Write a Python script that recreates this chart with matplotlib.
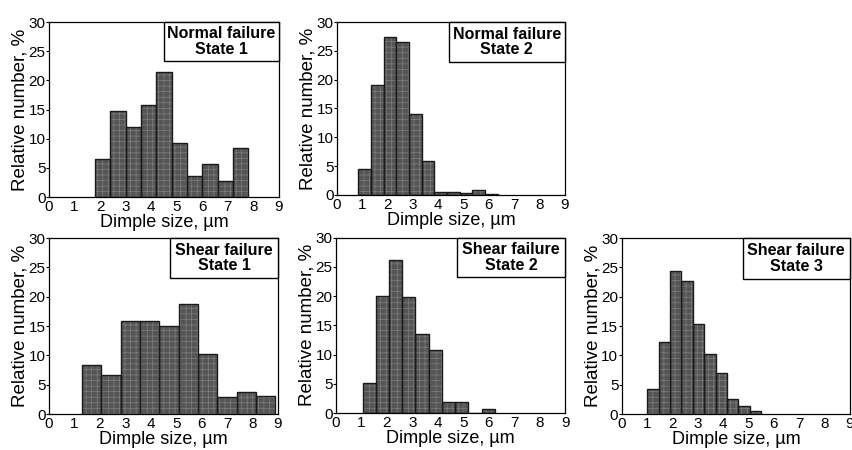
import matplotlib
matplotlib.use("Agg")
import matplotlib.pyplot as plt
from matplotlib.patches import Rectangle

plt.rcParams['font.family'] = ['Liberation Sans', 'DejaVu Sans']
plt.rcParams['hatch.linewidth'] = 0.5

# Panel titles
titles = ["Normal failure\nState 1", "Normal failure\nState 2",
          "Shear failure\nState 1", "Shear failure\nState 2", "Shear failure\nState 3"]

# Bin left edges and widths (µm) and relative numbers (%)
n1_edges = [1.8, 2.4, 3.0, 3.6, 4.2, 4.8, 5.4, 6.0, 6.6, 7.2]
n1_width = 0.6
n1_vals = [6.6, 14.7, 12.0, 15.8, 21.5, 9.2, 3.6, 5.7, 2.7, 8.4]

n2_edges = [0.85, 1.35, 1.85, 2.35, 2.85, 3.35, 3.85, 4.35, 4.85, 5.35, 5.85]
n2_width = 0.5
n2_vals = [4.45, 19.0, 27.4, 26.6, 14.0, 5.9, 0.6, 0.5, 0.3, 0.8, 0.2]

s1_edges = [1.3, 2.06, 2.82, 3.58, 4.34, 5.1, 5.86, 6.62, 7.38, 8.14]
s1_width = 0.76
s1_vals = [8.4, 6.7, 15.8, 15.8, 15.0, 18.7, 10.2, 2.9, 3.8, 3.0]

s2_edges = [1.04, 1.56, 2.08, 2.60, 3.12, 3.64, 4.16, 4.68, 5.20, 5.72]
s2_width = 0.52
s2_vals = [5.2, 20.0, 26.1, 19.8, 13.5, 10.7, 1.8, 1.8, 0.0, 0.7]

s3_edges = [1.0, 1.45, 1.9, 2.35, 2.8, 3.25, 3.7, 4.15, 4.6, 5.05]
s3_width = 0.45
s3_vals = [4.2, 12.3, 24.3, 22.7, 15.3, 10.2, 7.0, 2.6, 1.4, 0.45]

x_ticks = [0, 1, 2, 3, 4, 5, 6, 7, 8, 9]
y_ticks = [0, 5, 10, 15, 20, 25, 30]

panels = [
    (n1_edges, n1_width, n1_vals, [0.0574, 0.5622, 0.2696, 0.3889], 0.50, 0.225),
    (n2_edges, n2_width, n2_vals, [0.395, 0.5667, 0.2673, 0.3844], 0.51, 0.23),
    (s1_edges, s1_width, s1_vals, [0.0574, 0.080, 0.2685, 0.391], 0.47, 0.225),
    (s2_edges, s2_width, s2_vals, [0.394, 0.0822, 0.2685, 0.390], 0.47, 0.225),
    (s3_edges, s3_width, s3_vals, [0.729, 0.080, 0.2673, 0.391], 0.47, 0.23),
]

fig = plt.figure(figsize=(8.53, 4.5), dpi=100)

for (edges, width, vals, pos, bw, bh), title in zip(panels, titles):
    ax = fig.add_axes(pos)
    ax.bar(edges, vals, width=width, align='edge', color='#555555',
           edgecolor='#7e7e7e', hatch='+++', linewidth=0, zorder=2)
    ax.bar(edges, vals, width=width, align='edge', fill=False,
           edgecolor='#1a1a1a', linewidth=1.0, zorder=3)
    ax.set_xlim(0, 9)
    ax.set_ylim(0, 30)
    ax.set_xticks(x_ticks)
    ax.set_yticks(y_ticks)
    ax.tick_params(axis='y', direction='out', length=2, pad=0.5, labelsize=11)
    ax.tick_params(axis='x', direction='out', length=0, pad=2, labelsize=11)
    for s in ax.spines.values():
        s.set_linewidth(0.9)
    ax.set_xlabel("Dimple size, µm", fontsize=13, labelpad=0)
    ax.set_ylabel("Relative number, %", fontsize=13.5, labelpad=0)
    ax.add_patch(Rectangle((1 - bw, 1 - bh), bw, bh, transform=ax.transAxes,
                           facecolor='white', edgecolor='black', linewidth=1.0,
                           zorder=5, clip_on=False))
    ax.text(1 - bw / 2, 1 - bh / 2, title, transform=ax.transAxes,
            ha='center', va='center', fontsize=11.5, fontweight='bold',
            linespacing=1.05, zorder=6)

fig.savefig("out.png", dpi=100)
